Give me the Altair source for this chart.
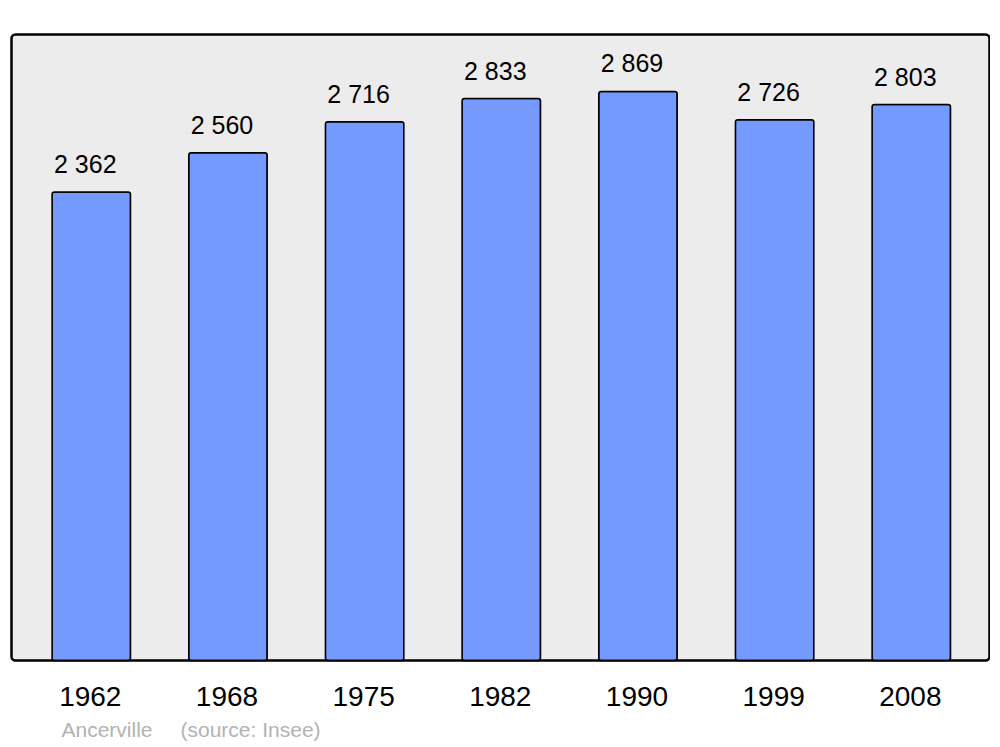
import altair as alt
import pandas as pd

years = ["1962", "1968", "1975", "1982", "1990", "1999", "2008"]
population = [2362, 2560, 2716, 2833, 2869, 2726, 2803]
labels = ["2 362", "2 560", "2 716", "2 833", "2 869", "2 726", "2 803"]
town = "Ancerville"
source = "(source: Insee)"

df = pd.DataFrame({"year": years, "pop": population, "label": labels})

W, H = 978, 626
FONT = "Liberation Sans"

x = alt.X("year:N", sort=years,
          scale=alt.Scale(paddingInner=0.426, paddingOuter=0.291, align=0.51),
          axis=alt.Axis(title=None, domain=False, ticks=False, labelAngle=0,
                        labelFontSize=28, labelColor="#000000", labelFont=FONT,
                        labelPadding=45, labelBaseline="alphabetic", labelOffset=-1))
y = alt.Y("pop:Q", scale=alt.Scale(domain=[0, 3156], nice=False), axis=None)

base = alt.Chart(df)

bars = base.mark_bar(color="#7499ff", stroke="#000000", strokeWidth=1.5,
                     cornerRadius=2.5).encode(x=x, y=y)

text = base.mark_text(fontSize=25, font=FONT, color="#000000", baseline="alphabetic",
                      dy=-19, dx=-6).encode(x=x, y=y, text="label:N")

foot = pd.DataFrame({"t": [town, source], "px": [50, 169]})
footer = alt.Chart(foot).mark_text(fontSize=21, font=FONT, color="#b3b3b3",
                                   align="left", baseline="alphabetic").encode(
    x=alt.X("px:Q", scale=None), y=alt.value(H + 76), text="t:N")

chart = alt.layer(bars, text, footer).properties(
    width=W, height=H, autosize="none",
    padding={"left": 3.5, "top": 26.5, "right": 0, "bottom": 84},
).configure_view(
    fill="#ececec", stroke="#000000", strokeWidth=2.5, cornerRadius=4
)

chart.save("out.html", embed_options={"renderer": "svg", "actions": False})
